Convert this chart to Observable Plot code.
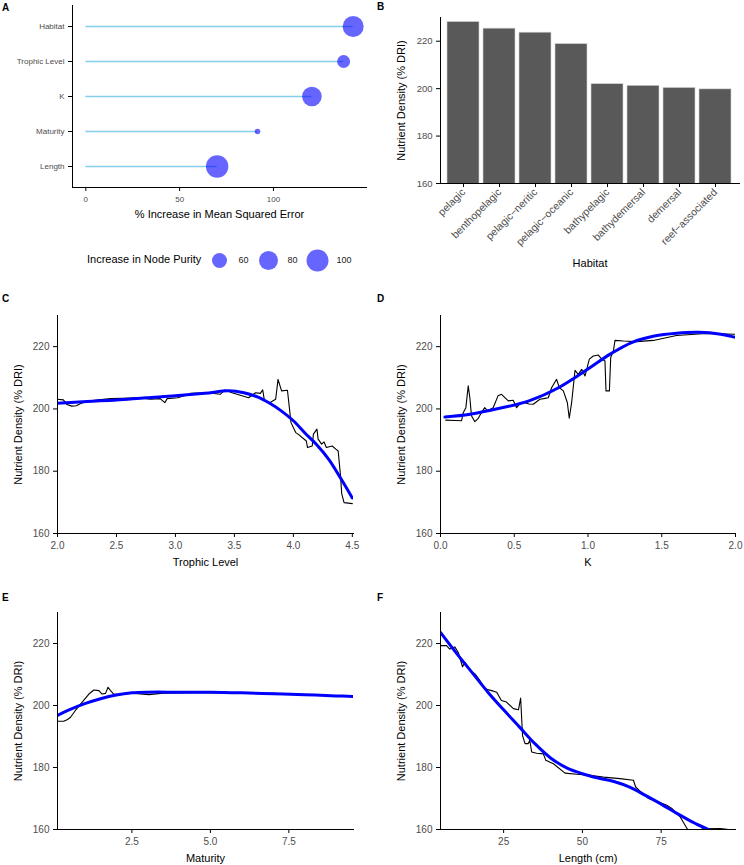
<!DOCTYPE html>
<html><head><meta charset="utf-8">
<script src="https://cdn.jsdelivr.net/npm/d3@7"></script>
<script src="https://cdn.jsdelivr.net/npm/@observablehq/plot@0.6"></script>
<style>
body{margin:0;background:#fff;}
#root{position:relative;width:744px;height:865px;overflow:hidden;font-family:"Liberation Sans",Arial,sans-serif;}
#root svg{position:absolute;overflow:visible;}
.tag{position:absolute;font-weight:bold;font-size:10px;color:#000;line-height:10px;}
.legtitle{position:absolute;font-size:11px;color:#000;line-height:11px;white-space:nowrap;}
svg g[aria-label="x-axis label"] text, svg g[aria-label="y-axis label"] text{font-size:11px;fill:#000;}
</style></head><body><div id="root"></div>
<script>
// ---------- Panel A: variable importance ----------
const importanceVars = ["Habitat", "Trophic Level", "K", "Maturity", "Length"];
const importanceMSE = [142.5, 137.4, 120.5, 91.5, 70.0];
const importancePurity = [93.0, 52.5, 84.0, 40.4, 103.0];
const purityLegendValues = [60, 80, 100];
const mseTicks = [0, 50, 100];

// ---------- Panel B: habitat means ----------
const habitats = ["pelagic", "benthopelagic", "pelagic\u2212neritic", "pelagic\u2212oceanic", "bathypelagic", "bathydemersal", "demersal", "reef\u2212associated"];
const habitatDensity = [228.1, 225.3, 223.6, 218.8, 201.9, 201.2, 200.3, 199.7];

// ---------- Panels C-F: partial dependence (x, nutrient density) ----------
const densityTicks = [160, 180, 200, 220];

const trophicTicks = [2.0, 2.5, 3.0, 3.5, 4.0, 4.5];
const trophicPartial = [[2.00,203.1],[2.05,202.9],[2.08,201.4],[2.12,200.9],[2.16,201.0],[2.20,201.8],[2.28,202.6],[2.35,202.9],[2.45,203.3],[2.55,203.4],[2.68,203.6],[2.79,203.1],[2.87,203.3],[2.91,202.0],[2.93,203.3],[3.02,203.6],[3.08,204.3],[3.13,205.0],[3.27,205.2],[3.38,204.7],[3.42,206.1],[3.48,205.2],[3.55,204.4],[3.62,203.6],[3.68,205.2],[3.72,205.0],[3.74,206.1],[3.755,202.6],[3.80,202.0],[3.85,203.1],[3.87,209.5],[3.90,205.8],[3.95,206.0],[3.98,195.6],[4.02,192.4],[4.04,191.9],[4.11,189.7],[4.12,187.6],[4.16,188.1],[4.17,191.9],[4.20,193.5],[4.21,190.3],[4.24,188.7],[4.26,189.4],[4.28,187.6],[4.33,188.1],[4.36,187.1],[4.38,186.5],[4.40,178.5],[4.41,172.8],[4.43,169.9],[4.50,169.6]];
const trophicSmooth = [[2.0,201.8],[2.25,202.4],[2.5,202.9],[2.75,203.6],[3.0,204.2],[3.25,205.0],[3.45,205.8],[3.58,205.2],[3.7,203.8],[3.8,201.8],[3.9,199.3],[4.0,196.2],[4.1,192.2],[4.2,188.4],[4.3,183.8],[4.4,177.8],[4.5,171.4]];

const kTicks = [0.0, 0.5, 1.0, 1.5, 2.0];
const kPartial = [[0.036,196.4],[0.10,196.3],[0.143,196.2],[0.154,198.8],[0.172,200.4],[0.188,207.4],[0.199,203.6],[0.21,197.8],[0.233,195.9],[0.256,197.0],[0.28,199.0],[0.30,200.4],[0.32,199.4],[0.357,200.4],[0.39,204.2],[0.414,204.7],[0.44,203.5],[0.46,202.6],[0.493,202.8],[0.516,200.4],[0.54,201.8],[0.572,202.0],[0.60,201.6],[0.629,201.5],[0.674,203.1],[0.70,203.3],[0.731,203.6],[0.753,206.8],[0.787,209.5],[0.806,206.8],[0.833,205.8],[0.86,202.0],[0.873,197.0],[0.889,202.0],[0.912,212.4],[0.934,211.1],[0.957,212.7],[0.98,210.6],[1.009,216.0],[1.036,217.0],[1.07,217.3],[1.093,216.0],[1.115,215.4],[1.122,205.8],[1.145,205.8],[1.154,216.5],[1.172,218.6],[1.183,222.0],[1.24,221.8],[1.33,221.6],[1.443,222.0],[1.6,223.6],[1.8,224.2],[2.0,224.0]];
const kSmooth = [[0.03,197.4],[0.2,198.3],[0.4,200.2],[0.6,202.6],[0.8,206.8],[1.0,212.8],[1.15,217.6],[1.3,221.4],[1.45,223.4],[1.6,224.3],[1.75,224.6],[1.9,224.0],[2.0,223.0]];

const maturityTicks = [2.5, 5.0, 7.5];
const maturityPartial = [[0.13,194.9],[0.33,194.9],[0.45,195.5],[0.545,196.2],[0.70,198.4],[0.91,201.0],[1.13,203.7],[1.29,205.0],[1.45,204.8],[1.55,203.7],[1.66,203.9],[1.74,205.9],[1.82,204.8],[1.92,203.7],[2.09,203.5],[2.5,204.0],[3.04,203.5],[3.5,204.0],[5.0,204.2],[7.0,203.9],[9.5,203.0]];
const maturitySmooth = [[0.13,196.8],[0.5,198.6],[1.0,200.6],[1.5,202.2],[2.0,203.4],[2.5,204.1],[3.0,204.3],[4.0,204.3],[5.0,204.3],[6.0,204.1],[7.0,203.8],[8.0,203.5],[9.0,203.1],[9.56,202.9]];

const lengthTicks = [25, 50, 75];
const lengthPartial = [[4.96,219.3],[6.87,219.3],[7.9,218.2],[9.5,218.9],[10.6,217.1],[11.95,212.5],[12.7,213.9],[14.3,211.3],[15.9,210.2],[17.5,208.0],[19.0,205.4],[21.2,204.8],[22.8,204.3],[24.3,201.6],[25.9,201.1],[28.1,199.0],[29.7,198.6],[30.4,202.4],[31.0,190.3],[31.8,187.7],[32.8,187.7],[33.3,188.8],[33.9,185.0],[35.5,184.6],[37.6,184.4],[38.4,182.3],[40.8,181.2],[44.5,178.2],[48.2,177.8],[52.4,177.5],[56.7,176.9],[61.9,176.4],[66.2,175.9],[66.9,173.7],[68.3,172.4],[71.0,170.0],[74.2,168.9],[76.8,167.8],[78.4,166.8],[81.0,164.1],[82.6,161.4],[83.4,160.0],[85.0,157.0],[87.0,159.6],[88.0,160.2],[93.7,160.3],[95.9,160.1]];
const lengthSmooth = [[5,223.5],[10,216.9],[15,210.6],[20,204.3],[25,198.6],[30,193.1],[35,187.6],[40,183.0],[45,179.9],[50,178.0],[55,176.6],[60,175.5],[65,173.7],[70,171.0],[75,168.2],[80,165.2],[85,162.4],[90,160.0],[95,157.7]];

// ---------- helpers ----------
const root = document.getElementById("root");
const FONT = "Liberation Sans, Arial, sans-serif";
const TICK = "#4d4d4d";
function place(svg, left, top) { svg.style.left = left + "px"; svg.style.top = top + "px"; root.appendChild(svg); }
function tag(text, left, top) { const d = document.createElement("div"); d.className = "tag"; d.textContent = text; d.style.left = left + "px"; d.style.top = top + "px"; root.appendChild(d); }

// size scale as in ggplot's area palette: radius grows with sqrt of value above the data minimum
const purityMin = d3.min(importancePurity);
const purityMax = d3.max(importancePurity);
const rScale = {type: "sqrt", domain: [0, purityMax - purityMin], range: [2.8, 11.2]};

// ---------- Panel A ----------
const impRows = importanceVars.map((v, i) => ({v, mse: importanceMSE[i], purity: importancePurity[i]}));
place(Plot.plot({
  width: 372, height: 230, marginLeft: 72, marginRight: 6, marginTop: 5, marginBottom: 43,
  style: {fontFamily: FONT, fontSize: "8px", background: "transparent"},
  x: {domain: [-7.1, 149.6]},
  y: {type: "point", domain: importanceVars, padding: 0.6},
  r: rScale,
  marks: [
    Plot.ruleY(impRows, {y: "v", x1: () => 0, x2: "mse", stroke: "#87ceeb", strokeWidth: 1.6}),
    Plot.dot(impRows, {x: "mse", y: "v", r: d => d.purity - purityMin, fill: "blue", fillOpacity: 0.6, stroke: "none"}),
    Plot.axisY({tickSize: 4, tickPadding: 4, fontSize: 8, fill: TICK, label: null}),
    Plot.axisX({ticks: mseTicks, tickSize: 4, tickPadding: 5, fontSize: 8, fill: TICK, label: "% Increase in Mean Squared Error", labelAnchor: "center", labelArrow: "none", labelOffset: 30}),
    Plot.frame({anchor: "left", stroke: "black", strokeWidth: 1}),
    Plot.frame({anchor: "bottom", stroke: "black", strokeWidth: 1})
  ]
}), 0, 0);
tag("A", 2, 3);

// legend for node purity
const lt = document.createElement("div"); lt.className = "legtitle"; lt.textContent = "Increase in Node Purity";
lt.style.left = "87px"; lt.style.top = "254px"; root.appendChild(lt);
place(Plot.plot({
  width: 160, height: 30, marginLeft: 0, marginRight: 0, marginTop: 0, marginBottom: 0,
  style: {fontFamily: FONT, fontSize: "9px", background: "transparent"},
  x: {type: "point", domain: purityLegendValues, range: [19, 117], padding: 0, axis: null},
  y: {domain: [0, 1], range: [30, 0], axis: null},
  r: rScale,
  marks: [
    Plot.dot(purityLegendValues, {x: d => d, y: () => 0.5, r: d => d - purityMin, fill: "blue", fillOpacity: 0.6, stroke: "none"}),
    Plot.text(purityLegendValues, {x: d => d, y: () => 0.5, text: d => String(d), dx: 19, textAnchor: "start", fill: "#222", fontSize: 9})
  ]
}), 200, 245);

// ---------- Panel B ----------
const habRows = habitats.map((h, i) => ({h, v: habitatDensity[i]}));
place(Plot.plot({
  width: 372, height: 290, marginLeft: 68, marginRight: 5, marginTop: 17, marginBottom: 107,
  style: {fontFamily: FONT, fontSize: "9.5px", background: "transparent"},
  x: {type: "band", domain: habitats, paddingInner: 0.1, paddingOuter: 0.15},
  y: {domain: [160, 230]},
  marks: [
    Plot.barY(habRows, {x: "h", y: "v", fill: "#595959", stroke: "#d4d4d4", strokeWidth: 0.6, clip: true}),
    Plot.axisY({ticks: densityTicks, tickSize: 4, tickPadding: 4, fontSize: 9.5, fill: TICK, label: "Nutrient Density (% DRI)", labelAnchor: "center", labelArrow: "none", labelOffset: 43}),
    Plot.axisX({tickSize: 4, tickPadding: 3, tickRotate: -45, fontSize: 10.5, fill: TICK, label: "Habitat", labelAnchor: "center", labelArrow: "none", labelOffset: 83}),
    Plot.frame({anchor: "left", stroke: "black", strokeWidth: 1}),
    Plot.frame({anchor: "bottom", stroke: "black", strokeWidth: 1})
  ]
}), 372, 0);
tag("B", 377, 2);

// ---------- line panels ----------
function linePanel({left, top, mL, mR, mT, mB, xDomain, xTicks, xFormat, xLabel, partial, smooth}) {
  place(Plot.plot({
    width: 372, height: 265, marginLeft: mL, marginRight: mR, marginTop: mT, marginBottom: mB,
    style: {fontFamily: FONT, fontSize: "10px", background: "transparent"},
    x: {domain: xDomain},
    y: {domain: [160, 230]},
    marks: [
      Plot.line(partial, {x: d => d[0], y: d => d[1], stroke: "black", strokeWidth: 1.1, clip: true}),
      Plot.line(smooth, {x: d => d[0], y: d => d[1], stroke: "blue", strokeWidth: 3, curve: "catmull-rom", clip: true}),
      Plot.axisY({ticks: densityTicks, tickSize: 4, tickPadding: 4, fontSize: 10, fill: TICK, label: "Nutrient Density (% DRI)", labelAnchor: "center", labelArrow: "none", labelOffset: 43}),
      Plot.axisX({ticks: xTicks, tickFormat: xFormat, tickSize: 4, tickPadding: 4, fontSize: 10, fill: TICK, label: xLabel, labelAnchor: "center", labelArrow: "none", labelOffset: 32}),
      Plot.frame({anchor: "left", stroke: "black", strokeWidth: 1}),
      Plot.frame({anchor: "bottom", stroke: "black", strokeWidth: 1})
    ]
  }), left, top);
}
const f1 = d3.format(".1f");
linePanel({left: 0, top: 300, mL: 57, mR: 19, mT: 15, mB: 32, xDomain: [2.0, 4.51], xTicks: trophicTicks, xFormat: f1, xLabel: "Trophic Level", partial: trophicPartial, smooth: trophicSmooth});
tag("C", 2, 294);
linePanel({left: 372, top: 300, mL: 68, mR: 9, mT: 15, mB: 32, xDomain: [0, 2.0], xTicks: kTicks, xFormat: f1, xLabel: "K", partial: kPartial, smooth: kSmooth});
tag("D", 377, 294);
linePanel({left: 0, top: 600, mL: 57, mR: 19, mT: 12, mB: 36, xDomain: [0.13, 9.56], xTicks: maturityTicks, xFormat: f1, xLabel: "Maturity", partial: maturityPartial, smooth: maturitySmooth});
tag("E", 2, 593);
linePanel({left: 372, top: 600, mL: 68, mR: 9, mT: 12, mB: 36, xDomain: [4.96, 98.6], xTicks: lengthTicks, xFormat: d3.format("d"), xLabel: "Length (cm)", partial: lengthPartial, smooth: lengthSmooth});
tag("F", 377, 593);
</script></body></html>
